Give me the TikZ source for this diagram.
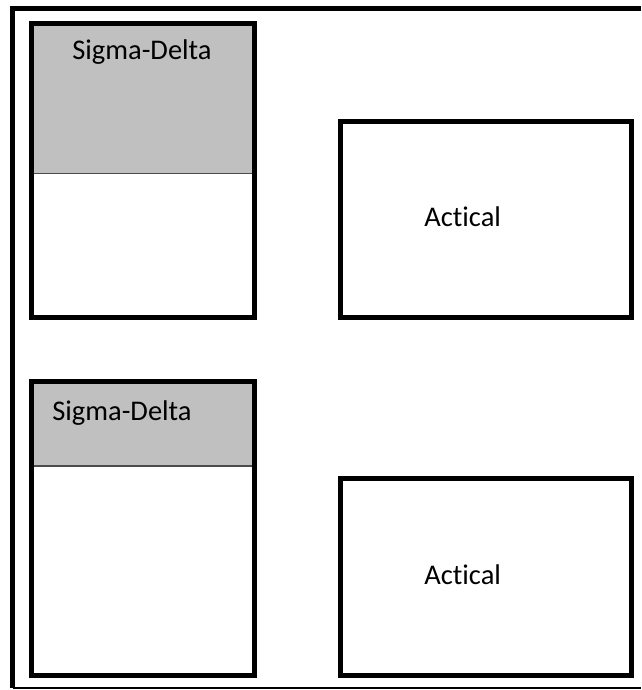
\documentclass[tikz,border=0pt]{standalone}
\usepackage{fontspec}
\setmainfont[Ligatures={NoCommon,NoRare}]{Carlito}
\definecolor{headgray}{HTML}{C0C0C0}
\begin{document}
\begin{tikzpicture}[x=1pt,y=-1pt,
  frame/.style={draw=black, line width=5pt, inner sep=0pt, outer sep=0pt, anchor=north west},
  divider/.style={draw=black!70, line width=1.2pt},
  lbl/.style={font=\fontsize{28.5}{34}\selectfont, inner sep=0pt, outer sep=0pt, anchor=base west},
  outer/.style={draw=black, line width=5pt, line join=miter},
  thinline/.style={draw=black, line width=1.3pt}]
\useasboundingbox (0,0) rectangle (641,690);
\fill[white] (0,0) rectangle (641,690);
% outer frame
\coordinate (ftr) at (641,8.3);
\coordinate (ftl) at (12.5,8.3);
\coordinate (fbl) at (12.5,688);
\coordinate (fbr) at (641,688);
\draw[outer] (ftr) -- (ftl) -- (fbl);
\draw[thinline] (fbl) -- (fbr);
% upper Sigma-Delta block
\fill[headgray] (31.8,24) rectangle (254.5,173.3);
\node[frame, minimum width=222.7pt, minimum height=293.5pt] (sd1) at (31.8,24) {};
\coordinate (d1l) at (34,173.3);
\coordinate (d1r) at (252,173.3);
\draw[divider] (d1l) -- (d1r);
\node[lbl] (sd1t) at (72.3,59.3) {Sigma-Delta};
% lower Sigma-Delta block
\fill[headgray] (31.8,381) rectangle (254.2,466);
\node[frame, minimum width=222.4pt, minimum height=294pt] (sd2) at (31.8,381) {};
\coordinate (d2l) at (34,466);
\coordinate (d2r) at (252,466);
\draw[divider] (d2l) -- (d2r);
\node[lbl] (sd2t) at (52.3,420) {Sigma-Delta};
% Actical blocks
\node[frame, minimum width=291pt, minimum height=196pt] (ac1) at (340.8,121.5) {};
\node[lbl] (ac1t) at (424.3,226) {Actical};
\node[frame, minimum width=291pt, minimum height=197pt] (ac2) at (340.8,478) {};
\node[lbl] (ac2t) at (424.3,584) {Actical};
\end{tikzpicture}
\end{document}
